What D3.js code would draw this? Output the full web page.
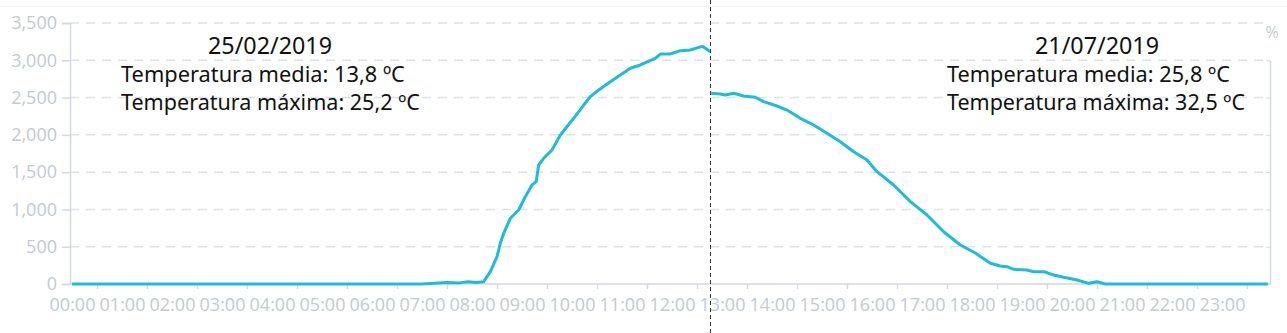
<!DOCTYPE html>
<html>
<head>
<meta charset="utf-8">
<script src="https://cdn.jsdelivr.net/npm/d3@7"></script>
<style>
  body { margin: 0; background: #fff; }
  svg { display: block; }
</style>
</head>
<body>
<div id="chart"></div>
<script>
// 25/02/2019 (mañana) y 21/07/2019 (tarde), W/m2 aprox.
const leftTimes = ["00:00","01:00","02:00","03:00","04:00","05:00","06:00","07:00","07:15","07:30","07:45","07:55","08:05","08:14","08:22","08:30","08:34","08:38","08:46","08:56","09:04","09:12","09:17","09:20","09:26","09:36","09:46","10:02","10:14","10:22","10:32","10:46","10:58","11:10","11:22","11:40","11:46","11:58","12:10","12:22","12:32","12:37","12:46"];
const leftValues = [0,0,0,0,0,0,0,0,10,20,15,30,20,31,165,366,546,680,881,992,1171,1328,1372,1596,1686,1797,1998,2222,2400,2512,2602,2713,2803,2893,2937,3027,3084,3084,3129,3138,3174,3185,3115];

const rightTimes = ["12:47","12:58","13:04","13:14","13:26","13:40","13:50","14:06","14:18","14:34","14:50","15:06","15:22","15:38","15:54","16:06","16:26","16:46","17:06","17:26","17:46","18:04","18:22","18:34","18:42","18:50","19:06","19:14","19:26","19:38","19:50","20:06","20:20","20:30","20:40","21:00","22:00","23:00","23:55"];
const rightValues = [2557,2548,2534,2557,2521,2504,2445,2387,2333,2222,2132,2021,1908,1774,1663,1506,1328,1104,925,701,523,416,278,241,232,197,188,165,165,121,90,54,9,31,0,0,0,0,0];

const hourLabels = d3.range(24).map(h => String(h).padStart(2, "0") + ":00");
const halfHourTicks = d3.range(24).map(h => h * 60 + 30);
const yTicks = [0, 500, 1000, 1500, 2000, 2500, 3000, 3500];

const leftNotes = ["25/02/2019", "Temperatura media: 13,8 ºC", "Temperatura máxima: 25,2 ºC"];
const rightNotes = ["21/07/2019", "Temperatura media: 25,8 ºC", "Temperatura máxima: 32,5 ºC"];

const width = 1287, height = 333;
const margin = { top: 23, left: 70, right: 1270, bottom: 284 };
const toMin = t => { const [h, m] = t.split(":").map(Number); return h * 60 + m; };

const svg = d3.select("#chart").append("svg")
    .attr("width", width)
    .attr("height", height);

const x = d3.scaleLinear().domain([0, 1440]).range([72, 1272]);
const y = d3.scaleLinear().domain([0, 3500]).range([margin.bottom, margin.top]);

const axisColor = "#d3d8e1", labelColor = "#c3c9d5";
const axisFont = "'Open Sans', sans-serif";

// faint top border
svg.append("line")
    .attr("x1", 0).attr("x2", width)
    .attr("y1", 6.5).attr("y2", 6.5)
    .attr("stroke", "#f3f4f6");

// grid
svg.append("g")
    .selectAll("line")
    .data(yTicks.filter(d => d > 0))
    .join("line")
    .attr("x1", margin.left).attr("x2", margin.right)
    .attr("y1", d => y(d)).attr("y2", d => y(d))
    .attr("stroke", "#dde1e9")
    .attr("stroke-width", 1.5)
    .attr("stroke-dasharray", "9,7");

// left axis
const yAxis = svg.append("g")
    .attr("transform", `translate(${margin.left},0)`)
    .call(d3.axisLeft(y).tickValues(yTicks).tickFormat(d3.format(",")).tickSize(8).tickPadding(5));
yAxis.select(".domain").attr("stroke", axisColor).attr("stroke-width", 1.5);
yAxis.selectAll(".tick line").attr("stroke", axisColor).attr("stroke-width", 1.5);
yAxis.selectAll("text")
    .attr("fill", labelColor)
    .attr("font-family", axisFont)
    .attr("font-size", "18px");

// right axis
const yRight = d3.scaleLinear().domain([0, 3000]).range([margin.bottom, y(3000)]);
const rAxis = svg.append("g")
    .attr("transform", `translate(${margin.right},0)`)
    .call(d3.axisRight(yRight).tickValues(yTicks.filter(d => d <= 3000)).tickFormat("").tickSizeInner(-4).tickSizeOuter(0));
rAxis.select(".domain").attr("stroke", axisColor).attr("stroke-width", 1.5);
rAxis.selectAll(".tick line").attr("stroke", axisColor);

svg.append("text")
    .attr("x", margin.right + 2)
    .attr("y", 38)
    .attr("text-anchor", "middle")
    .attr("fill", labelColor)
    .attr("font-family", axisFont)
    .attr("font-size", "16px")
    .text("%");

// bottom axis: ticks at half hours, labels at full hours
const xTicksAxis = svg.append("g")
    .attr("transform", `translate(0,${margin.bottom})`)
    .call(d3.axisBottom(x).tickValues(halfHourTicks).tickFormat("").tickSizeInner(5).tickSizeOuter(0));
xTicksAxis.select(".domain").attr("d", `M${margin.left},0H${margin.right}`)
    .attr("stroke", axisColor).attr("stroke-width", 1.5);
xTicksAxis.selectAll(".tick line").attr("stroke", axisColor).attr("stroke-width", 1.5);

const xLabels = svg.append("g")
    .attr("transform", `translate(0,${margin.bottom})`)
    .call(d3.axisBottom(x).tickValues(hourLabels.map(toMin)).tickFormat((d, i) => hourLabels[i]).tickSize(0).tickPadding(14));
xLabels.select(".domain").remove();
xLabels.selectAll("text")
    .attr("fill", labelColor)
    .attr("font-family", axisFont)
    .attr("font-size", "18px");

// lines
const line = d3.line()
    .x(d => x(d.t))
    .y(d => y(d.v));

const series = [
    leftTimes.map((t, i) => ({ t: toMin(t), v: leftValues[i] })),
    rightTimes.map((t, i) => ({ t: toMin(t), v: rightValues[i] }))
];

svg.append("g")
    .selectAll("path")
    .data(series)
    .join("path")
    .attr("d", line)
    .attr("fill", "none")
    .attr("stroke", "#1ebcd6")
    .attr("stroke-width", 3)
    .attr("stroke-linejoin", "round");

// divider
svg.append("line")
    .attr("x1", 710.5).attr("x2", 710.5)
    .attr("y1", 0).attr("y2", height)
    .attr("stroke", "#333")
    .attr("stroke-width", 1)
    .attr("stroke-dasharray", "4,3");

// annotations
function addNotes(notes, left, dateCenter, widths) {
    const g = svg.append("g")
        .attr("font-family", "'Noto Sans', sans-serif")
        .attr("fill", "#111");
    notes.forEach((txt, i) => {
        const t = g.append("text")
            .attr("x", i === 0 ? dateCenter : left)
            .attr("y", 54 + i * 28)
            .attr("text-anchor", i === 0 ? "middle" : "start")
            .attr("font-size", "19px")
            .text(txt);
        const w = t.node().getComputedTextLength();
        t.attr("font-size", (19 * widths[i] / w).toFixed(2) + "px");
    });
}
addNotes(leftNotes, 121, 270, [124, 284, 299]);
addNotes(rightNotes, 947, 1097, [124, 283, 298]);
</script>
</body>
</html>
